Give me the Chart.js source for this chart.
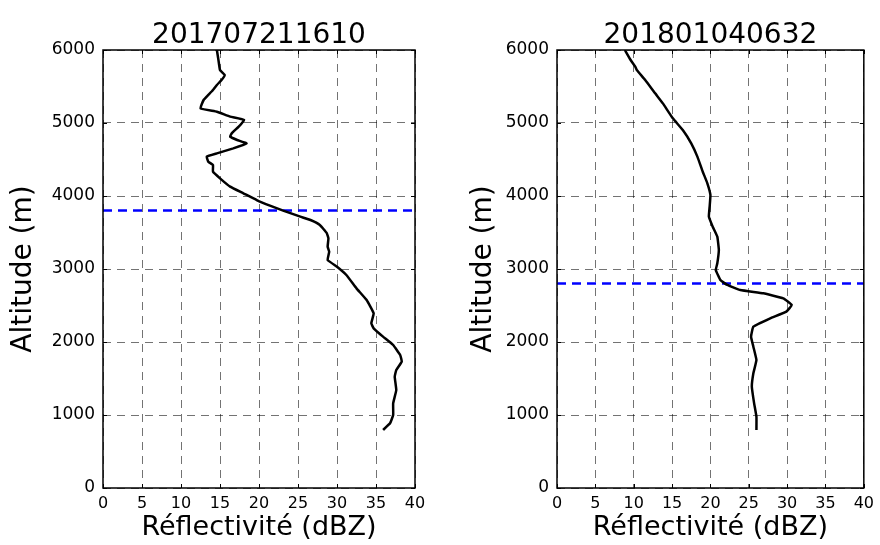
<!DOCTYPE html>
<html>
<head>
<meta charset="utf-8">
<script src="https://cdn.jsdelivr.net/npm/chart.js@4/dist/chart.umd.min.js"></script>
<style>
  body { margin: 0; background: #fff; }
  .wrap { position: absolute; top: 0; width: 440px; height: 545px; }
</style>
</head>
<body>
<div class="wrap" style="left:0"><canvas id="chartLeft" width="440" height="545"></canvas></div>
<div class="wrap" style="left:440px"><canvas id="chartRight" width="440" height="545"></canvas></div>
<script>
'use strict'

//++++++++++++++ Data ++++++++++++++//
let xTicks = [0, 5, 10, 15, 20, 25, 30, 35, 40];
let yTicks = [0, 1000, 2000, 3000, 4000, 5000, 6000];

let titleLeft = '201707211610';
let reflLeft = [14.6, 14.8, 15.0, 15.6, 15.2, 14.6, 14.1, 13.5, 12.9, 12.5, 14.6, 16.3, 18.1, 17.4, 16.5, 16.3, 17.2, 18.4, 16.7, 14.6, 13.3, 13.5, 14.1, 14.1, 15.0, 16.3, 18.0, 19.7, 21.4, 23.1, 25.3, 26.6, 27.8, 28.7, 28.9, 28.8, 29.0, 28.8, 30.0, 31.2, 32.5, 33.8, 34.7, 34.4, 34.7, 35.9, 37.2, 38.1, 38.3, 37.6, 37.4, 37.6, 37.2, 37.2, 36.8, 35.9];
let altLeft = [6000, 5863, 5726, 5658, 5589, 5521, 5452, 5384, 5315, 5201, 5155, 5087, 5041, 4950, 4858, 4813, 4767, 4721, 4653, 4584, 4539, 4470, 4424, 4333, 4242, 4128, 4037, 3945, 3868, 3799, 3717, 3671, 3603, 3489, 3420, 3306, 3237, 3123, 3032, 2918, 2735, 2575, 2393, 2256, 2187, 2073, 1959, 1822, 1731, 1616, 1525, 1342, 1160, 1000, 886, 795];
let levelLeft = 3800;

let titleRight = '201801040632';
let reflRight = [8.85, 9.6, 10.2, 10.4, 11.5, 12.8, 13.8, 15.1, 16.4, 17.5, 18.3, 19.0, 19.6, 20.0, 19.9, 19.8, 20.3, 20.9, 21.1, 20.9, 20.7, 21.3, 22.2, 23.9, 26.9, 29.5, 30.6, 29.9, 27.8, 25.6, 25.3, 25.6, 26.0, 25.6, 25.4, 25.7, 26.0, 26.0];
let altRight = [6000, 5863, 5772, 5726, 5589, 5406, 5269, 5064, 4904, 4721, 4539, 4333, 4174, 4014, 3854, 3717, 3580, 3443, 3260, 3078, 2986, 2849, 2781, 2712, 2667, 2598, 2507, 2416, 2324, 2210, 2073, 1936, 1753, 1571, 1388, 1160, 977, 795];
let levelRight = 2800;

//++++++++++++++ Plugin: title + box + inward ticks ++++++++++++++//
let framePlugin = {
  id: 'frame',
  afterDraw(chart, args, opts) {
    let ctx = chart.ctx;
    let a = chart.chartArea;
    let xs = chart.scales.x;
    let ys = chart.scales.y;
    ctx.save();
    ctx.strokeStyle = '#000';
    ctx.lineWidth = 1;
    xTicks.forEach(v => {
      let px = Math.round(xs.getPixelForValue(v)) + 0.5;
      ctx.beginPath();
      ctx.moveTo(px, a.bottom); ctx.lineTo(px, a.bottom - 4);
      ctx.moveTo(px, a.top); ctx.lineTo(px, a.top + 4);
      ctx.stroke();
    });
    yTicks.forEach(v => {
      let py = Math.round(ys.getPixelForValue(v)) + 0.5;
      ctx.beginPath();
      ctx.moveTo(a.left, py); ctx.lineTo(a.left + 4, py);
      ctx.moveTo(a.right, py); ctx.lineTo(a.right - 4, py);
      ctx.stroke();
    });
    ctx.lineWidth = 1.5;
    ctx.strokeRect(a.left, a.top, a.right - a.left, a.bottom - a.top);
    ctx.fillStyle = '#000';
    ctx.font = '28px "DejaVu Sans"';
    ctx.textAlign = 'center';
    ctx.textBaseline = 'alphabetic';
    ctx.fillText(opts.text, (a.left + a.right) / 2, 43);
    ctx.restore();
  }
};

//++++++++++++++ Chart builder ++++++++++++++//
function makeChart(canvasId, refl, alt, level, title, axisWidth, rightPad, yTitlePad) {
  let points = refl.map((v, i) => ({ x: v, y: alt[i] }));
  let levelPoints = [{ x: xTicks[0], y: level }, { x: xTicks[xTicks.length - 1], y: level }];
  let gridStyle = { color: 'rgba(0,0,0,0.55)', lineWidth: 1, drawTicks: false };

  return new Chart(document.getElementById(canvasId), {
    type: 'scatter',
    data: {
      datasets: [{
        data: points,
        showLine: true,
        borderColor: '#000',
        borderWidth: 2.5,
        tension: 0.1,
        pointRadius: 0
      }, {
        data: levelPoints,
        showLine: true,
        borderColor: '#0000ff',
        borderWidth: 2.5,
        borderDash: [9, 6],
        pointRadius: 0
      }]
    },
    options: {
      responsive: false,
      animation: false,
      layout: { padding: { top: 50, right: rightPad, left: 0, bottom: 0 } },
      plugins: {
        legend: { display: false },
        tooltip: { enabled: false },
        frame: { text: title }
      },
      scales: {
        x: {
          type: 'linear',
          min: 0,
          max: 40,
          afterBuildTicks: s => { s.ticks = xTicks.map(v => ({ value: v })); },
          afterFit: s => { s.height = 57; },
          grid: gridStyle,
          border: { display: false, dash: [8, 6] },
          ticks: { color: '#000', font: { family: 'DejaVu Sans', size: 16 }, padding: 6, maxRotation: 0, autoSkip: false },
          title: { display: true, text: 'Réflectivité (dBZ)', color: '#000', font: { family: 'DejaVu Sans', size: 27 }, padding: { top: 0, bottom: 1 } }
        },
        y: {
          type: 'linear',
          min: 0,
          max: 6000,
          afterBuildTicks: s => { s.ticks = yTicks.map(v => ({ value: v })); },
          afterFit: s => { s.width = axisWidth; },
          grid: gridStyle,
          border: { display: false, dash: [8, 6] },
          ticks: { color: '#000', font: { family: 'DejaVu Sans', size: 17 }, padding: 8, autoSkip: false, callback: v => String(v) },
          title: { display: true, text: 'Altitude (m)', color: '#000', font: { family: 'DejaVu Sans', size: 28 }, padding: { top: yTitlePad, bottom: 0 } }
        }
      }
    },
    plugins: [framePlugin]
  });
}

makeChart('chartLeft', reflLeft, altLeft, levelLeft, titleLeft, 103, 25, 7);
makeChart('chartRight', reflRight, altRight, levelRight, titleRight, 117, 11, 27);
</script>
</body>
</html>
